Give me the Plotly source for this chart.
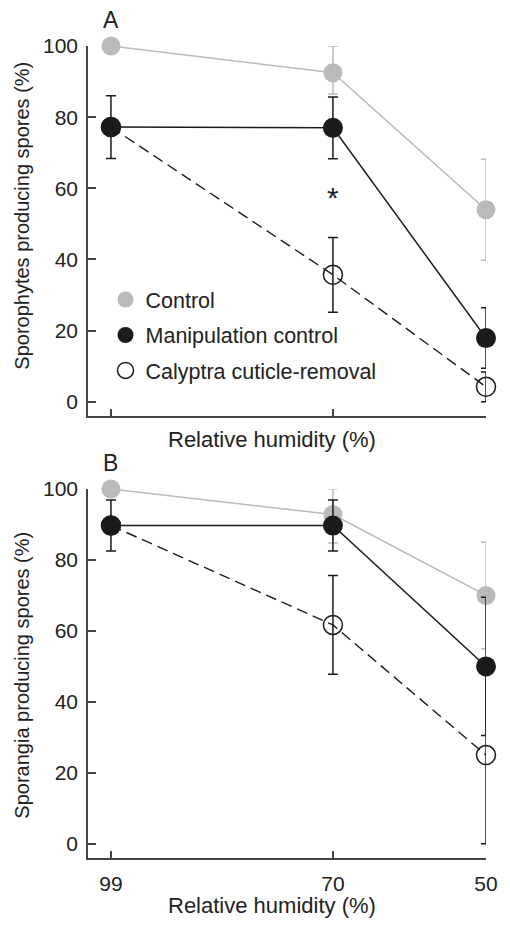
import plotly.graph_objects as go

# ---------------- data ----------------
humidity = [99, 70, 50]
tick_vals = [99, 70, 50]
tick_text = ["99", "70", "50"]
y_ticks = [0, 20, 40, 60, 80, 100]

# Panel A: sporophytes producing spores (%)
a_control = [100, 92.5, 54.0]
a_control_up = [0, 7.5, 14.2]
a_control_dn = [0, 6.0, 14.2]
a_manip = [77.2, 77.0, 17.9]
a_manip_err = [8.8, 8.7, 8.5]
a_calyptra = [77.2, 35.7, 4.2]
a_calyptra_err = [0, 10.5, 4.2]
a_star_x = 70
a_star_y = 58.5

# Panel B: sporangia producing spores (%)
b_control = [100, 92.8, 70.0]
b_control_up = [0, 7.3, 15.0]
b_control_dn = [0, 8.0, 15.0]
b_manip = [89.7, 89.7, 50.0]
b_manip_err = [7.2, 7.2, 19.5]
b_calyptra = [89.7, 61.7, 25.0]
b_calyptra_err = [0, 13.9, 25.0]

series_names = ["Control", "Manipulation control", "Calyptra cuticle-removal"]

# ---------------- style ----------------
GRAY = "#b9babc"
BLACK = "#1b1b1b"
AXIS = "#444444"
TXT = "#222222"
FONT = "Liberation Sans, Arial, sans-serif"
MS = 19

fig = go.Figure()


def add_panel(xa, ya, ctl, ctl_up, ctl_dn, man, man_err, cal, cal_err):
    fig.add_trace(go.Scatter(
        x=humidity, y=ctl, xaxis=xa, yaxis=ya, mode="lines+markers",
        line=dict(color=GRAY, width=1.5),
        marker=dict(color=GRAY, size=MS),
        error_y=dict(type="data", array=ctl_up, arrayminus=ctl_dn, symmetric=False,
                     color=GRAY, thickness=1.5, width=5),
        showlegend=False, cliponaxis=False, hoverinfo="x+y"))
    fig.add_trace(go.Scatter(
        x=humidity, y=man, xaxis=xa, yaxis=ya, mode="lines+markers",
        line=dict(color=BLACK, width=1.5),
        marker=dict(color=BLACK, size=MS + 1),
        error_y=dict(type="data", array=man_err, color=BLACK, thickness=1.5, width=5),
        showlegend=False, cliponaxis=False, hoverinfo="x+y"))
    fig.add_trace(go.Scatter(
        x=humidity, y=cal, xaxis=xa, yaxis=ya, mode="lines+markers",
        line=dict(color=BLACK, width=1.4, dash="11px,6px"),
        marker=dict(color=BLACK, size=MS, symbol="circle-open", line=dict(width=1.5, color=BLACK)),
        error_y=dict(type="data", array=cal_err, color=BLACK, thickness=1.5, width=5),
        showlegend=False, cliponaxis=False, hoverinfo="x+y"))


add_panel("x", "y", a_control, a_control_up, a_control_dn, a_manip, a_manip_err, a_calyptra, a_calyptra_err)
add_panel("x2", "y2", b_control, b_control_up, b_control_dn, b_manip, b_manip_err, b_calyptra, b_calyptra_err)

# legend-only entries (markers only)
legend_styles = [
    dict(color=GRAY, size=20),
    dict(color=BLACK, size=20),
    dict(color=BLACK, size=20, symbol="circle-open", line=dict(width=1.5, color=BLACK)),
]
for i, (name, mk) in enumerate(zip(series_names, legend_styles)):
    fig.add_trace(go.Scatter(x=[None], y=[None], mode="markers", name=name, marker=mk,
                             legendgroup=f"g{i}", xaxis="x", yaxis="y"))

common_x = dict(range=[102, 50], tickvals=tick_vals, ticktext=tick_text, ticks="inside", ticklen=7,
                tickwidth=1.5, tickcolor=AXIS, showline=True, linecolor=AXIS, linewidth=1.5,
                showgrid=False, zeroline=False, tickfont=dict(size=21, color=TXT, family=FONT))
common_y = dict(range=[-4, 100], tickvals=y_ticks, ticks="inside", ticklen=8, tickwidth=1.5,
                tickcolor=AXIS, showline=True, linecolor=AXIS, linewidth=1.5, showgrid=False,
                zeroline=False, tickfont=dict(size=21, color=TXT, family=FONT), ticklabelstandoff=4)

# page body has an 8px margin: figure is 8px smaller and margins shifted accordingly
fig.update_layout(
    width=502, height=917,
    margin=dict(l=80, r=14, t=38, b=67),
    paper_bgcolor="white", plot_bgcolor="white",
    font=dict(family=FONT, color=TXT, size=20),
    xaxis=dict(common_x, anchor="y", domain=[0, 1], showticklabels=False),
    yaxis=dict(common_y, anchor="x", domain=[0.5443, 1]),
    xaxis2=dict(common_x, anchor="y2", domain=[0, 1], showticklabels=True, ticklabelstandoff=6),
    yaxis2=dict(common_y, anchor="x2", domain=[0, 0.4544]),
    legend=dict(x=0.044, y=0.713, xanchor="left", yanchor="top", bgcolor="rgba(0,0,0,0)",
                font=dict(size=21.5, color=TXT, family=FONT), tracegroupgap=4.5, itemsizing="trace"),
    showlegend=True,
)

annotations = [
    dict(text="*", x=a_star_x, y=a_star_y, xref="x", yref="y", showarrow=False,
         font=dict(size=30, color=TXT), yshift=-3.5),
    dict(text="A", x=99, y=1.0708, xref="x", yref="y domain", showarrow=False,
         xanchor="center", yanchor="middle", font=dict(size=23, color=TXT)),
    dict(text="B", x=99, y=1.0705, xref="x2", yref="y2 domain", showarrow=False,
         xanchor="center", yanchor="middle", font=dict(size=23, color=TXT)),
    dict(text="Relative humidity (%)", x=0.463, y=0.5148, xref="paper", yref="paper",
         showarrow=False, font=dict(size=22, color=TXT), xanchor="center", yanchor="middle"),
    dict(text="Relative humidity (%)", x=0.463, y=-0.0579, xref="paper", yref="paper",
         showarrow=False, font=dict(size=22, color=TXT), xanchor="center", yanchor="middle"),
    dict(text="Sporophytes producing spores (%)", x=-0.1667, y=0.7906, xref="paper", yref="paper",
         showarrow=False, textangle=-90, xanchor="center", yanchor="middle",
         font=dict(size=20, color=TXT)),
    dict(text="Sporangia producing spores (%)", x=-0.1667, y=0.2254, xref="paper", yref="paper",
         showarrow=False, textangle=-90, xanchor="center", yanchor="middle",
         font=dict(size=20, color=TXT)),
]
fig.update_layout(annotations=annotations)

fig.write_html("out.html")
